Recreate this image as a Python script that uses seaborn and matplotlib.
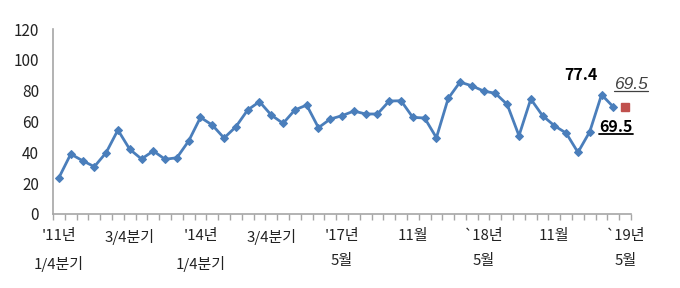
import numpy as np
import pandas as pd
import matplotlib
matplotlib.use("Agg")
import matplotlib.pyplot as plt
from matplotlib.lines import Line2D
import seaborn as sns

# --- DATA ---
values = [23.6, 38.9, 34.6, 30.7, 39.8, 54.5, 42.0, 35.7, 40.9, 35.5,
          36.5, 47.4, 62.7, 57.7, 49.3, 56.6, 67.5, 72.9, 64.2, 58.8,
          67.5, 70.7, 56.0, 61.6, 63.8, 66.8, 64.9, 64.9, 73.3, 73.5,
          62.7, 62.3, 49.5, 75.0, 85.6, 83.2, 79.8, 78.3, 71.1, 50.8,
          74.6, 63.8, 57.3, 52.5, 40.0, 53.4, 77.4, 69.5]
forecast_value = 69.5
tick_labels = {0: "'11년\n1/4분기", 6: "3/4분기", 12: "'14년\n1/4분기",
               18: "3/4분기", 24: "'17년\n5월", 30: "11월",
               36: "`18년\n5월", 42: "11월", 48: "`19년\n5월"}
peak_label = "77.4"
last_label = "69.5"
forecast_label = "69.5"

LINE_COLOR = '#4A7EBB'
RED = '#C0504D'
AXIS_GRAY = '#A6A6A6'

sns.set_style("white")
plt.rcParams['font.family'] = ['Noto Sans CJK KR', 'DejaVu Sans']

df = pd.DataFrame({'idx': np.arange(len(values)), 'value': values})
forecast_idx = len(values)

fig = plt.figure(figsize=(6.8, 2.88), dpi=100)
ax = fig.add_axes([0.078, 0.257, 0.85, 0.642])

sns.lineplot(data=df, x='idx', y='value', ax=ax, color=LINE_COLOR,
             linewidth=2.0, marker='D', markersize=4,
             markeredgecolor=LINE_COLOR, markerfacecolor=LINE_COLOR)
ax.plot([forecast_idx], [forecast_value], marker='s', markersize=6,
        color=RED, linestyle='none')

ax.set_xlim(-0.5, forecast_idx + 0.5)
ax.set_ylim(0, 120)
ax.set_yticks(range(0, 121, 20))
ax.set_xlabel("")
ax.set_ylabel("")

# tick labels at category centres, tick marks at boundaries
ax.set_xticks(list(tick_labels.keys()))
ax.set_xticklabels(list(tick_labels.values()), fontsize=10.8, linespacing=1.95)
ax.set_xticks(np.arange(-0.5, forecast_idx + 1, 1), minor=True)
ax.tick_params(axis='x', which='major', length=0, pad=11, colors='#222222')
ax.tick_params(axis='x', which='minor', length=4, width=1, color=AXIS_GRAY,
               direction='out')
ax.tick_params(axis='y', length=4, width=1, color=AXIS_GRAY, labelsize=11,
               labelcolor='#222222', pad=6)
ax.tick_params(axis='x', which='minor', bottom=True)

for s in ['top', 'right']:
    ax.spines[s].set_visible(False)
for s in ['left', 'bottom']:
    ax.spines[s].set_color(AXIS_GRAY)
    ax.spines[s].set_linewidth(1.2)

# annotations
peak_idx = len(values) - 2
last_idx = len(values) - 1
t1 = ax.annotate(peak_label, (peak_idx, values[peak_idx]), xytext=(-15, 14),
                 textcoords='offset points', ha='center', va='center',
                 fontsize=11.5, fontweight='bold', color='black')
t2 = ax.annotate(last_label, (last_idx, values[last_idx]), xytext=(2, -14.5),
                 textcoords='offset points', ha='center', va='center',
                 fontsize=11.5, fontweight='bold', color='black')
t3 = ax.annotate(forecast_label, (forecast_idx, forecast_value), xytext=(4, 16),
                 textcoords='offset points', ha='center', va='center',
                 fontsize=12.5, fontstyle='italic', color='#404040',
                 family='Liberation Sans')

# underlines
fig.canvas.draw()
inv = fig.transFigure.inverted()
for t, lw, c in [(t2, 1.3, 'black'), (t3, 0.9, '#404040')]:
    bb = t.get_window_extent()
    (x0, y0), (x1, _) = inv.transform([(bb.x0, bb.y0 + 1), (bb.x1, bb.y0 + 1)])
    fig.add_artist(Line2D([x0, x1], [y0, y0], color=c, linewidth=lw,
                          transform=fig.transFigure))

fig.savefig("out.png", dpi=100)
